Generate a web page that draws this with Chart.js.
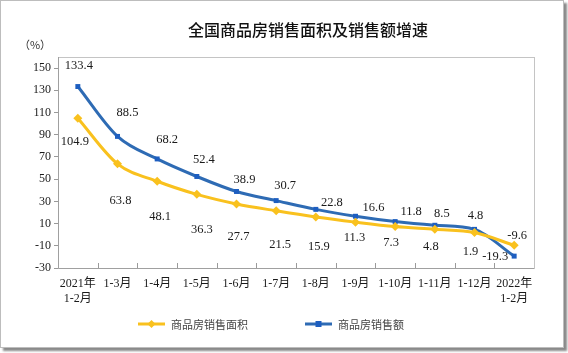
<!DOCTYPE html>
<html>
<head>
<meta charset="utf-8">
<script src="https://cdn.jsdelivr.net/npm/chart.js@4/dist/chart.umd.min.js"></script>
<style>
  html, body { margin: 0; padding: 0; background: #fff; }
  #wrap { position: relative; width: 568px; height: 353px; }
  #c { position: absolute; left: 0; top: 0; }
  #frame { position: absolute; left: 0; top: 0; width: 562px; height: 346px;
           border: 1px solid #bdbdbd; box-shadow: 3px 3px 2px #8a8a8a; pointer-events: none; }
</style>
</head>
<body>
<div id="wrap">
  <canvas id="c" width="568" height="353"></canvas>
  <div id="frame"></div>
</div>
<script>
// ---- data ----
const categories = [
  ['2021年', '1-2月'], '1-3月', '1-4月', '1-5月', '1-6月', '1-7月',
  '1-8月', '1-9月', '1-10月', '1-11月', '1-12月', ['2022年', '1-2月']
];
const areaGrowth  = [104.9, 63.8, 48.1, 36.3, 27.7, 21.5, 15.9, 11.3, 7.3, 4.8, 1.9, -9.6];
const salesGrowth = [133.4, 88.5, 68.2, 52.4, 38.9, 30.7, 22.8, 16.6, 11.8, 8.5, 4.8, -19.3];
const yTickValues = [-30, -10, 10, 30, 50, 70, 90, 110, 130, 150];
const seriesNames = ['商品房销售面积', '商品房销售额'];
const titleText = '全国商品房销售面积及销售额增速';
const unitText = '（%）';

// ---- styles ----
const YELLOW = '#F9C11E';
const BLUE = '#2E6BB4';
const BLUE_MK = '#1D5EC0';
const SERIF = "'Liberation Serif', 'Noto Sans CJK SC', serif";
const CJK = "'Noto Sans CJK SC', sans-serif";

// label offsets (text centre relative to point), per dataset
const labelOffsets = [
  [[-3,24],[3,37],[3,35],[5,35],[2,33],[4,34],[3,30],[-1,16],[-4,16],[-4,17],[-4,19],[3,-10]],
  [[1,-21],[10,-24],[10,-19],[7,-17],[8,-12],[9,-15],[16,-7],[18,-9],[16,-10],[7,-12],[1,-14],[-19,1]]
];

const decor = {
  id: 'decor',
  beforeDatasetsDraw(chart) {
    const ctx = chart.ctx, a = chart.chartArea;
    ctx.save();
    ctx.strokeStyle = '#c4c4c4';
    ctx.lineWidth = 1;
    ctx.strokeRect(Math.round(a.left) + 0.5, Math.round(a.top) + 0.5,
                   Math.round(a.right - a.left), Math.round(a.bottom - a.top));
    // inner x tick marks at category boundaries
    const xs = chart.scales.x;
    ctx.strokeStyle = '#9a9a9a';
    ctx.beginPath();
    for (let i = 1; i < categories.length; i++) {
      const x = Math.round((xs.getPixelForValue(i - 1) + xs.getPixelForValue(i)) / 2) + 0.5;
      ctx.moveTo(x, a.bottom);
      ctx.lineTo(x, a.bottom - 5);
    }
    ctx.stroke();
    // bottom/left axis lines
    ctx.strokeStyle = '#a0a0a0';
    ctx.beginPath();
    ctx.moveTo(Math.round(a.left) + 0.5, a.top);
    ctx.lineTo(Math.round(a.left) + 0.5, a.bottom + 0.5);
    ctx.lineTo(a.right, Math.round(a.bottom) + 0.5);
    ctx.stroke();
    ctx.restore();
  },
  afterDraw(chart) {
    const ctx = chart.ctx;
    ctx.save();
    // title
    ctx.fillStyle = '#111';
    ctx.font = "500 16px " + CJK;
    ctx.textAlign = 'center';
    ctx.textBaseline = 'middle';
    ctx.fillText(titleText, 308, 30);
    // unit
    ctx.font = "11px " + CJK;
    ctx.fillStyle = '#333';
    ctx.fillText(unitText, 35, 45);
    // data labels
    ctx.font = "12.5px " + SERIF;
    ctx.fillStyle = '#1a1a1a';
    chart.data.datasets.forEach((ds, di) => {
      const meta = chart.getDatasetMeta(di);
      meta.data.forEach((pt, i) => {
        const off = labelOffsets[di][i];
        ctx.fillText(ds.data[i].toFixed(1), pt.x + off[0], pt.y + off[1]);
      });
    });
    // legend
    const items = [
      { x: 138, color: YELLOW, mk: YELLOW, shape: 'diamond', text: seriesNames[0] },
      { x: 305, color: BLUE, mk: BLUE_MK, shape: 'square', text: seriesNames[1] }
    ];
    const ly = 324;
    items.forEach(it => {
      ctx.strokeStyle = it.color;
      ctx.lineWidth = 3;
      ctx.beginPath();
      ctx.moveTo(it.x, ly); ctx.lineTo(it.x + 27, ly); ctx.stroke();
      ctx.fillStyle = it.mk;
      const cx = it.x + 13.5;
      if (it.shape === 'diamond') {
        ctx.beginPath();
        ctx.moveTo(cx, ly - 4); ctx.lineTo(cx + 4, ly); ctx.lineTo(cx, ly + 4); ctx.lineTo(cx - 4, ly);
        ctx.closePath(); ctx.fill();
      } else {
        ctx.fillRect(cx - 3, ly - 3, 6, 6);
      }
      ctx.fillStyle = '#444';
      ctx.font = "11px " + CJK;
      ctx.textAlign = 'left';
      ctx.fillText(it.text, it.x + 33, ly + 1);
    });
    ctx.restore();
  }
};

new Chart(document.getElementById('c'), {
  type: 'line',
  data: {
    labels: categories,
    datasets: [
      {
        label: seriesNames[0], data: areaGrowth,
        borderColor: YELLOW, backgroundColor: YELLOW, borderWidth: 3,
        pointStyle: 'rectRot', pointRadius: 4.5, pointBackgroundColor: YELLOW, pointBorderWidth: 0,
        tension: 0.25, cubicInterpolationMode: 'monotone'
      },
      {
        label: seriesNames[1], data: salesGrowth,
        borderColor: BLUE, backgroundColor: BLUE_MK, borderWidth: 3,
        pointStyle: 'rect', pointRadius: 3.5, pointBackgroundColor: BLUE_MK, pointBorderWidth: 0,
        tension: 0.25, cubicInterpolationMode: 'monotone'
      }
    ]
  },
  options: {
    responsive: false,
    animation: false,
    devicePixelRatio: 1,
    layout: { padding: { left: 0, right: 34, top: 57, bottom: 0 } },
    plugins: { legend: { display: false }, title: { display: false }, tooltip: { enabled: false } },
    scales: {
      x: {
        type: 'category',
        offset: true,
        grid: { display: false, drawTicks: false, offset: true },
        border: { display: false },
        ticks: { color: '#1a1a1a', font: { family: SERIF, size: 12, lineHeight: 1.2 }, padding: 9,
                 maxRotation: 0, autoSkip: false },
        afterFit(s) { s.height = 85; }
      },
      y: {
        min: -30, max: 160,
        afterBuildTicks(s) { s.ticks = yTickValues.map(v => ({ value: v })); },
        grid: { drawOnChartArea: false, drawTicks: true, tickLength: 4, color: '#999' },
        border: { display: false },
        ticks: { color: '#1a1a1a', font: { family: SERIF, size: 12 }, padding: 3 },
        afterFit(s) { s.width = 58; }
      }
    }
  },
  plugins: [decor]
});
</script>
</body>
</html>
